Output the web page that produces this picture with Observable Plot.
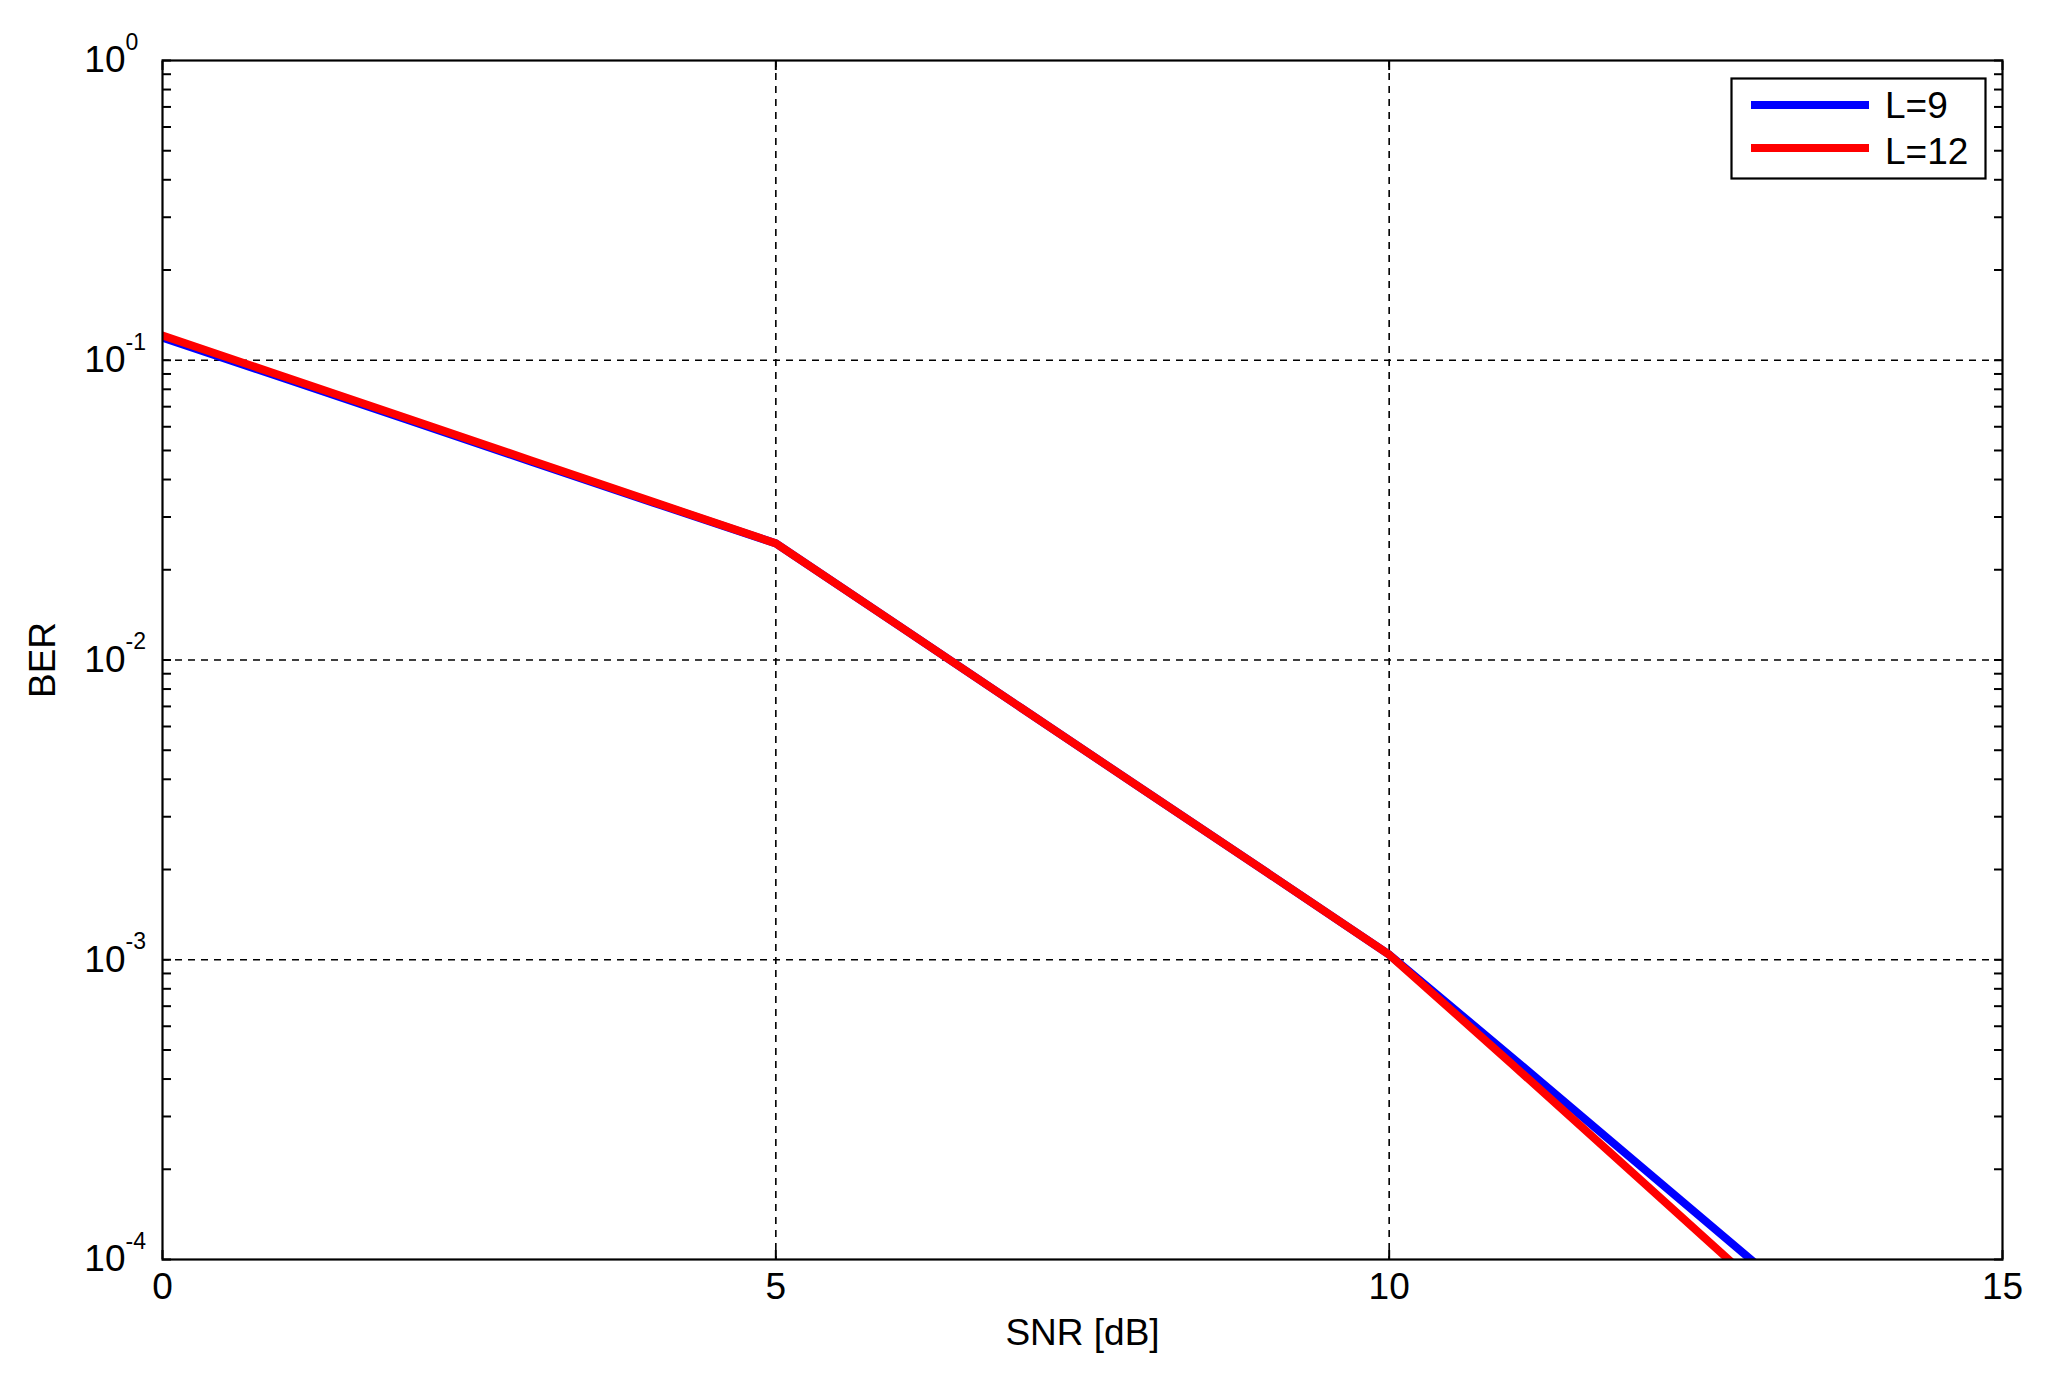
<!DOCTYPE html>
<html>
<head>
<meta charset="utf-8">
<script src="https://cdn.jsdelivr.net/npm/d3@7"></script>
<script src="https://cdn.jsdelivr.net/npm/@observablehq/plot@0.6"></script>
<style>
  html, body { margin: 0; padding: 0; background: #fff; }
  #wrap { position: relative; width: 2050px; height: 1377px; font-family: "Liberation Sans", Arial, sans-serif; }
  #legend { position: absolute; left: 1730px; top: 77px; }
</style>
</head>
<body>
<div id="wrap"></div>
<script>
// ---- data ----
const snr    = [0, 1, 2, 3, 4, 5, 6, 7, 8, 9, 10, 11, 12, 13];
const berL9  = [0.119, 0.0868, 0.0632, 0.046, 0.0335, 0.0245, 0.01303, 0.00692, 0.00368, 0.00196, 0.00104, 0.000473, 0.000213, 0.000096];
const berL12 = [0.121, 0.0879, 0.0639, 0.0464, 0.0337, 0.0245, 0.01303, 0.00692, 0.00368, 0.00196, 0.00104, 0.000449, 0.000192, 0.000082];
const seriesNames  = ["L=9", "L=12"];
const seriesColors = ["#0000ff", "#ff0000"];
const xTicks = [0, 5, 10, 15];
const xTickLabels = ["0", "5", "10", "15"];
const yDecades = [1e-4, 1e-3, 1e-2, 1e-1, 1];
const yExponents = ["-4", "-3", "-2", "-1", "0"];
const xLabel = "SNR [dB]";
const yLabel = "BER";

// ---- build ----
const rows = [];
[berL9, berL12].forEach((arr, si) => arr.forEach((v, i) => rows.push({snr: snr[i], ber: v, series: seriesNames[si]})));
const minorY = [];
yDecades.slice(0, -1).forEach(d => { for (let k = 1; k <= 9; k++) minorY.push(d * k); });
minorY.push(1);
const innerX = xTicks.slice(1, -1);
const innerY = yDecades.slice(1, -1);

const font = "'Liberation Sans', Arial, sans-serif";
const FS = 37;
const chart = Plot.plot({
  width: 2050,
  height: 1377,
  marginLeft: 162,
  marginRight: 48,
  marginTop: 60,
  marginBottom: 118,
  style: {fontFamily: font, color: "black", background: "white"},
  x: {domain: [0, 15]},
  y: {type: "log", domain: [1e-4, 1]},
  color: {domain: seriesNames, range: seriesColors},
  marks: [
    Plot.gridX(innerX, {stroke: "black", strokeOpacity: 1, strokeWidth: 1.6, strokeDasharray: "7,6"}),
    Plot.gridY(innerY, {stroke: "black", strokeOpacity: 1, strokeWidth: 1.6, strokeDasharray: "7,6"}),
    Plot.axisX({anchor: "bottom", ticks: xTicks, tickSize: -9, strokeWidth: 2, fill: "none", label: null}),
    Plot.axisX({anchor: "top", ticks: xTicks, tickSize: -9, strokeWidth: 2, fill: "none", label: null}),
    Plot.axisY({anchor: "left", ticks: minorY, tickSize: -9, strokeWidth: 2, fill: "none", label: null}),
    Plot.axisY({anchor: "right", ticks: minorY, tickSize: -9, strokeWidth: 2, fill: "none", label: null}),
    Plot.line(rows, {x: "snr", y: "ber", z: "series", stroke: "series", strokeWidth: 8, clip: true, strokeLinejoin: "round"}),
    Plot.frame({stroke: "black", strokeWidth: 2.2}),
    // tick labels
    Plot.text(xTicks, {x: d => d, text: (d, i) => xTickLabels[i], frameAnchor: "bottom", lineAnchor: "middle", dy: 28, fontSize: FS, fill: "black"}),
    Plot.text(yDecades, {y: d => d, text: () => "10", frameAnchor: "left", textAnchor: "end", lineAnchor: "middle", dx: -37, fontSize: FS, fill: "black"}),
    Plot.text(yDecades, {y: d => d, text: (d, i) => yExponents[i], frameAnchor: "left", textAnchor: "start", lineAnchor: "middle", dx: -37, dy: -18, fontSize: 23, fill: "black"}),
    // axis labels
    Plot.text([xLabel], {frameAnchor: "bottom", textAnchor: "middle", lineAnchor: "middle", dy: 74, fontSize: FS, fill: "black"}),
    Plot.text([yLabel], {frameAnchor: "left", textAnchor: "middle", lineAnchor: "middle", dx: -119, rotate: -90, fontSize: FS, fill: "black"})
  ]
});
const wrap = document.getElementById("wrap");
wrap.appendChild(chart);

// ---- legend (overlay) ----
const ns = "http://www.w3.org/2000/svg";
const lg = document.createElementNS(ns, "svg");
lg.setAttribute("id", "legend");
lg.setAttribute("width", 258);
lg.setAttribute("height", 104);
const rect = document.createElementNS(ns, "rect");
rect.setAttribute("x", 1.5); rect.setAttribute("y", 1.5);
rect.setAttribute("width", 254); rect.setAttribute("height", 100);
rect.setAttribute("fill", "white"); rect.setAttribute("stroke", "black"); rect.setAttribute("stroke-width", 2.2);
lg.appendChild(rect);
seriesNames.forEach((name, i) => {
  const yy = 28 + i * 43;
  const ln = document.createElementNS(ns, "line");
  ln.setAttribute("x1", 21); ln.setAttribute("x2", 139);
  ln.setAttribute("y1", yy); ln.setAttribute("y2", yy);
  ln.setAttribute("stroke", seriesColors[i]); ln.setAttribute("stroke-width", 8);
  lg.appendChild(ln);
  const tx = document.createElementNS(ns, "text");
  tx.setAttribute("x", 155); tx.setAttribute("y", yy + 13 + i * 3);
  tx.setAttribute("font-size", FS); tx.setAttribute("font-family", font);
  tx.setAttribute("fill", "black");
  tx.textContent = name;
  lg.appendChild(tx);
});
wrap.appendChild(lg);
</script>
</body>
</html>
